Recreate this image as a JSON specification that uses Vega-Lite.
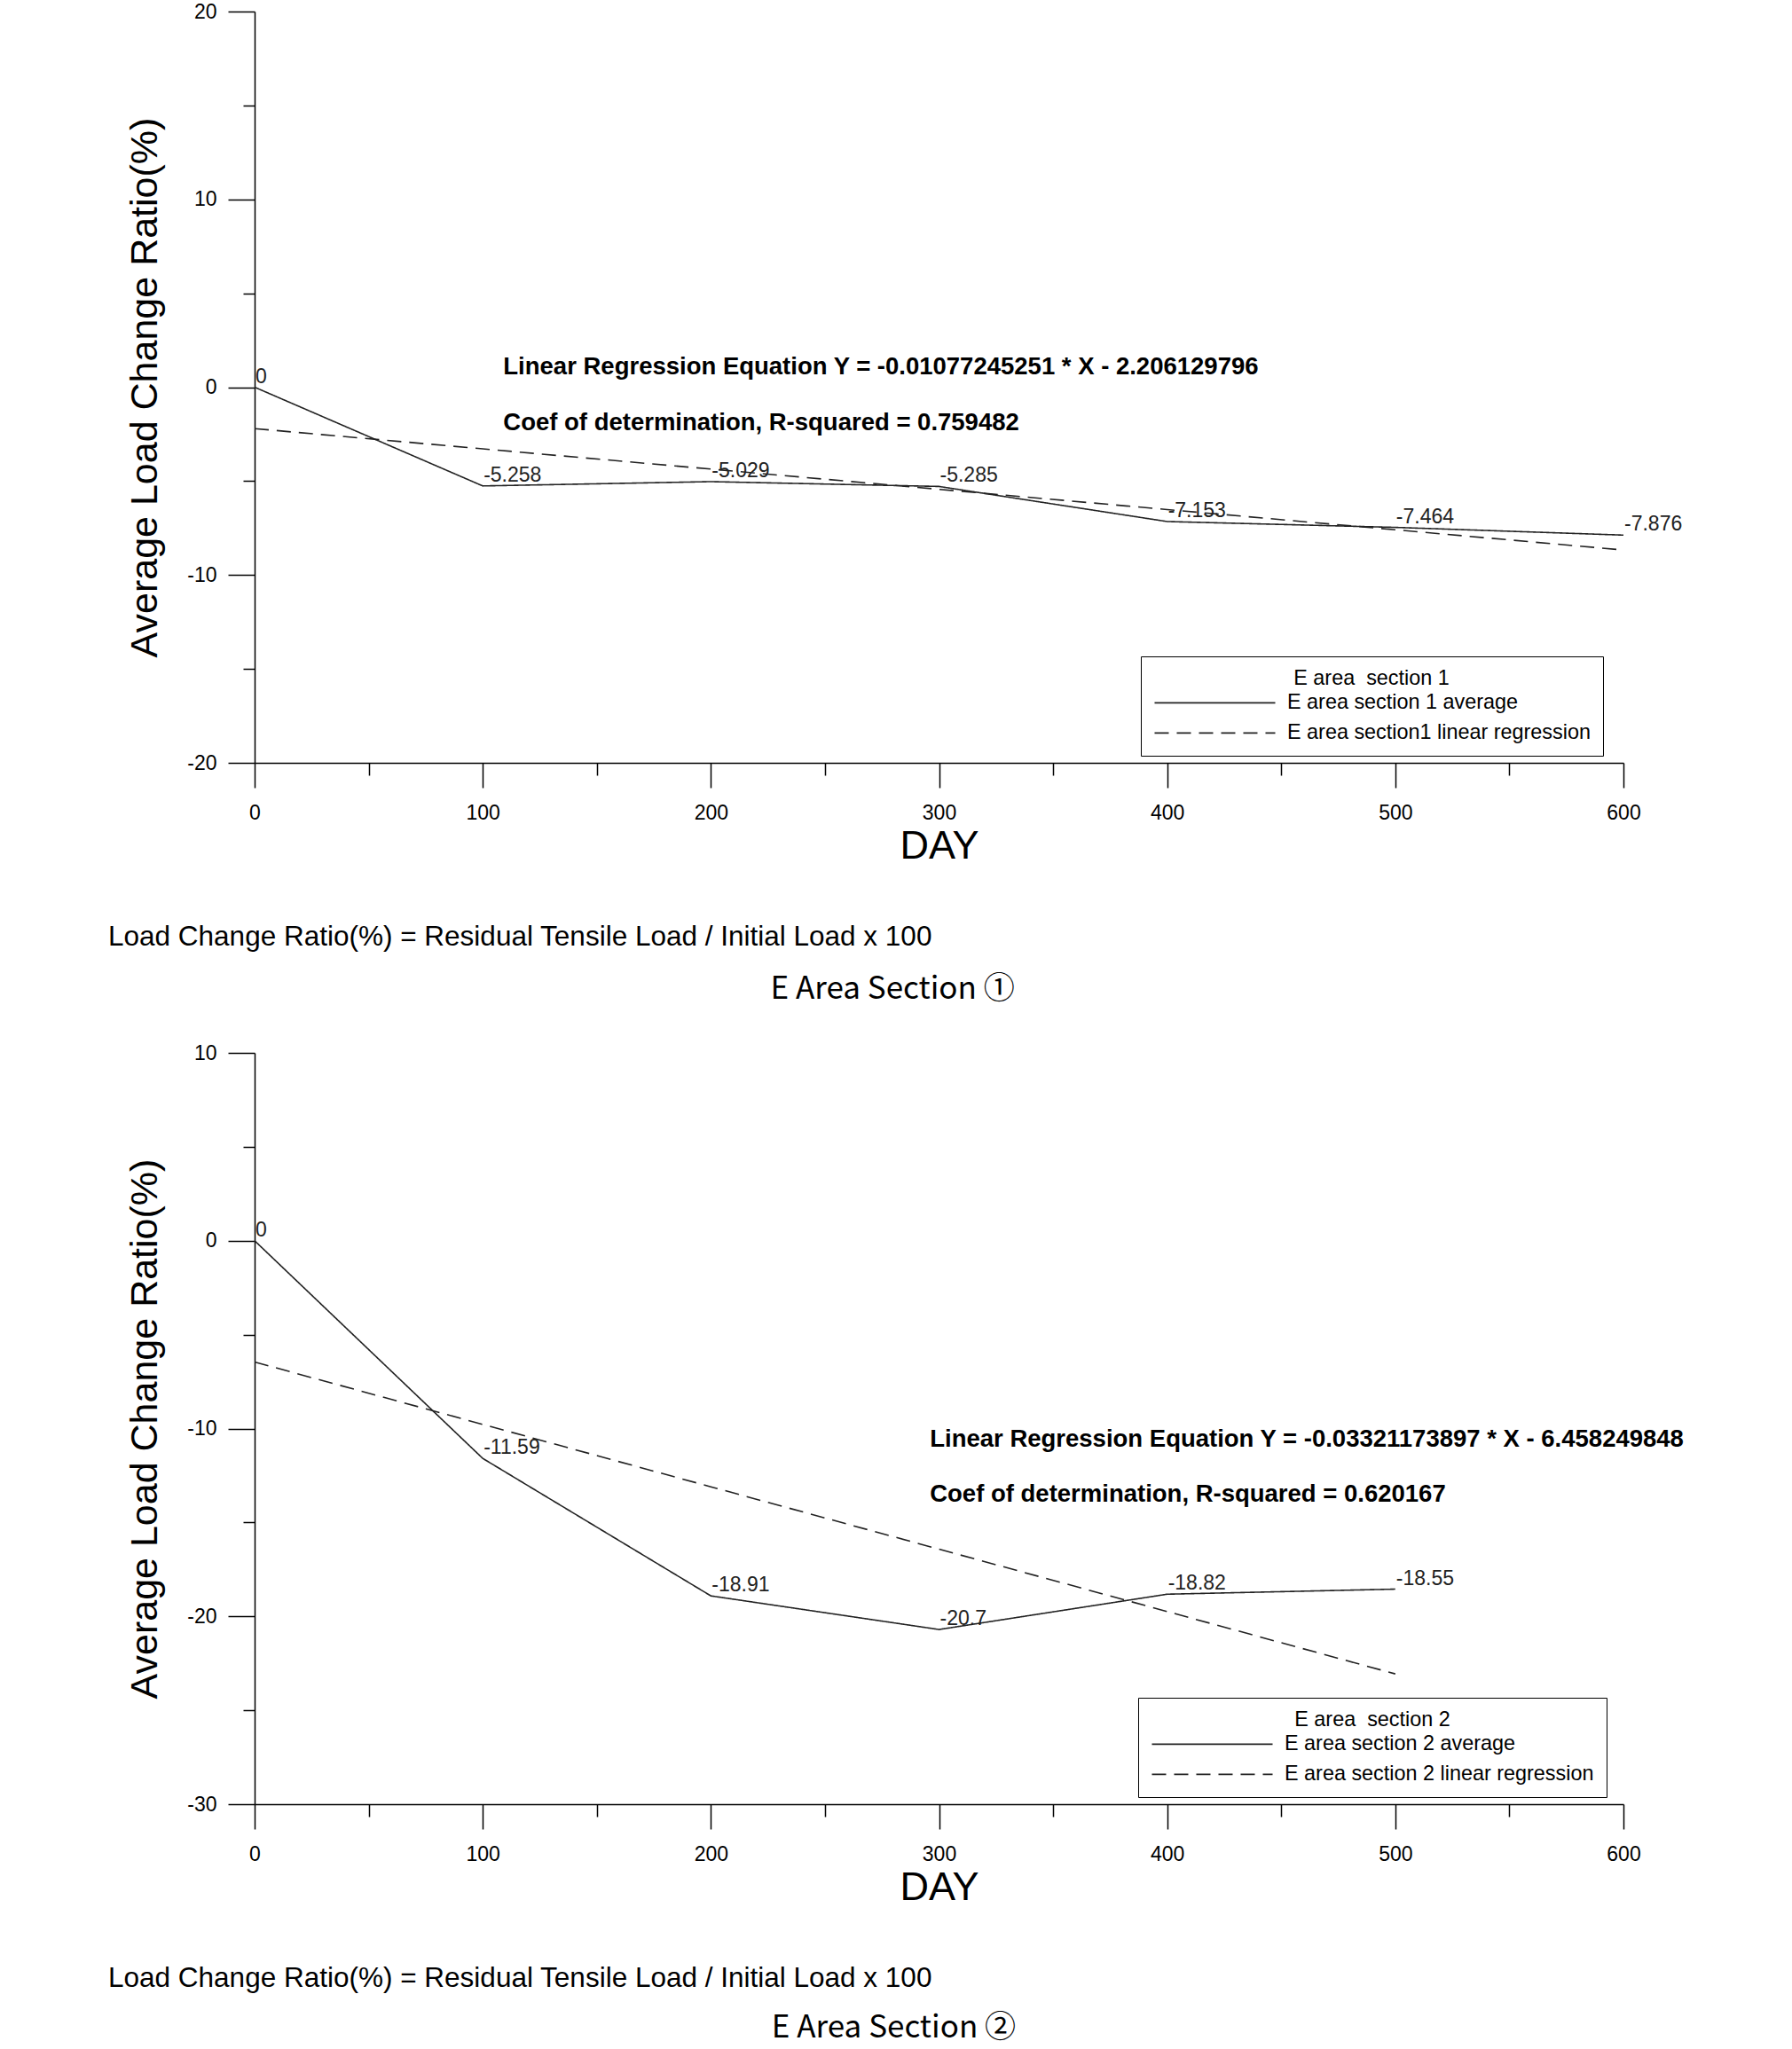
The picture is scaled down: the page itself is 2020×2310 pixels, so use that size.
{
  "$schema": "https://vega.github.io/schema/vega-lite/v6.json",
  "background": "white",
  "padding": {"left": 122, "top": 2, "right": 0, "bottom": 0},
  "spacing": 43,
  "config": {
    "font": "Liberation Sans",
    "view": {"stroke": null},
    "axis": {
      "grid": false,
      "domainColor": "#000",
      "domainWidth": 1.5,
      "tickColor": "#000",
      "tickWidth": 1.5,
      "labelColor": "#000",
      "labelFont": "Liberation Sans",
      "labelFontSize": 23,
      "titleFont": "Liberation Sans",
      "titleColor": "#000",
      "titleFontWeight": "normal",
      "labelFlush": false,
      "labelOverlap": false
    },
    "legend": {
      "orient": "none",
      "strokeColor": "#000",
      "fillColor": "white",
      "padding": 14,
      "titleFont": "Liberation Sans",
      "titleFontSize": 23.4,
      "titleFontWeight": "normal",
      "titleColor": "#000",
      "titleAnchor": "middle",
      "titleAlign": "center",
      "titlePadding": 2.5,
      "labelFont": "Liberation Sans",
      "labelFontSize": 23.4,
      "labelColor": "#000",
      "labelLimit": 1000,
      "labelOffset": 69,
      "symbolType": "M-6,0H6",
      "symbolOffset": 57,
      "symbolSize": 514,
      "symbolStrokeColor": "#222",
      "symbolStrokeWidth": 1.6,
      "rowPadding": 10
    },
    "title": {"color": "#000", "fontWeight": "normal"}
  },
  "resolve": {"scale": {"strokeDash": "independent", "x": "independent", "y": "independent"}, "legend": {"strokeDash": "independent"}},
  "vconcat": [
    {
      "title": {"text": "E Area Section ①", "orient": "bottom", "anchor": "middle", "font": "Noto Sans CJK KR", "fontSize": 35, "offset": 25, "dx": -3},
      "vconcat": [
        {
          "width": 1543,
          "height": 847,
          "title": {"text": "Load Change Ratio(%) = Residual Tensile Load / Initial Load x 100", "orient": "bottom", "anchor": "start", "frame": "group", "font": "Liberation Sans", "fontSize": 31.5, "dx": -165, "offset": 65},
          "layer": [
            {
              "data": {"values": [
                {"day": 0, "value": 0, "series": "E area section 1 average"},
                {"day": 100, "value": -5.258, "series": "E area section 1 average"},
                {"day": 200, "value": -5.029, "series": "E area section 1 average"},
                {"day": 300, "value": -5.285, "series": "E area section 1 average"},
                {"day": 400, "value": -7.153, "series": "E area section 1 average"},
                {"day": 500, "value": -7.464, "series": "E area section 1 average"},
                {"day": 600, "value": -7.876, "series": "E area section 1 average"},
                {"day": 0, "value": -2.206, "series": "E area section1 linear regression"},
                {"day": 100, "value": -3.283, "series": "E area section1 linear regression"},
                {"day": 200, "value": -4.361, "series": "E area section1 linear regression"},
                {"day": 300, "value": -5.438, "series": "E area section1 linear regression"},
                {"day": 400, "value": -6.515, "series": "E area section1 linear regression"},
                {"day": 500, "value": -7.592, "series": "E area section1 linear regression"},
                {"day": 600, "value": -8.670, "series": "E area section1 linear regression"}
              ]},
              "mark": {"type": "line", "color": "#222", "strokeWidth": 1.6},
              "encoding": {
                "x": {"field": "day", "type": "quantitative", "scale": {"domain": [0, 600], "nice": false, "zero": false},
                  "axis": {"title": "DAY", "titleFontSize": 45, "values": [0, 50, 100, 150, 200, 250, 300, 350, 400, 450, 500, 550, 600],
                    "labelExpr": "datum.value % 100 === 0 ? '' + datum.value : ''",
                    "tickSize": {"condition": {"test": "datum.value % 100 === 0", "value": 28}, "value": 14},
                    "labelPadding": 17, "titlePadding": 3}},
                "y": {"field": "value", "type": "quantitative", "scale": {"domain": [-20, 20], "nice": false, "zero": false},
                  "axis": {"title": "Average Load Change Ratio(%)", "titleFontSize": 43, "values": [-20, -15, -10, -5, 0, 5, 10, 15, 20],
                    "labelExpr": "datum.value % 10 === 0 ? '' + datum.value : ''",
                    "tickSize": {"condition": {"test": "datum.value % 10 === 0", "value": 30}, "value": 13},
                    "labelPadding": 13, "titlePadding": 25}},
                "strokeDash": {"field": "series", "type": "nominal",
                  "scale": {"domain": ["E area section 1 average", "E area section1 linear regression"], "range": [[1, 0], [16, 9]]},
                  "legend": {"title": "E area\u00a0 section 1", "legendX": 999, "legendY": 727}}
              }
            },
            {
              "data": {"values": [
                {"day": 0, "value": 0, "label": "0"},
                {"day": 100, "value": -5.258, "label": "-5.258"},
                {"day": 200, "value": -5.029, "label": "-5.029"},
                {"day": 300, "value": -5.285, "label": "-5.285"},
                {"day": 400, "value": -7.153, "label": "-7.153"},
                {"day": 500, "value": -7.464, "label": "-7.464"},
                {"day": 600, "value": -7.876, "label": "-7.876"}
              ]},
              "mark": {"type": "text", "align": "left", "baseline": "alphabetic", "dx": 1, "dy": -5, "fontSize": 23, "color": "#222"},
              "encoding": {
                "x": {"field": "day", "type": "quantitative"},
                "y": {"field": "value", "type": "quantitative"},
                "text": {"field": "label"}
              }
            },
            {
              "data": {"values": [
                {"day": 109, "value": 1.08, "text": "Linear Regression Equation Y = -0.01077245251 * X - 2.206129796"},
                {"day": 109, "value": -1.91, "text": "Coef of determination, R-squared = 0.759482"}
              ]},
              "mark": {"type": "text", "align": "left", "baseline": "middle", "fontSize": 27.5, "fontWeight": "bold", "color": "#000"},
              "encoding": {
                "x": {"field": "day", "type": "quantitative"},
                "y": {"field": "value", "type": "quantitative"},
                "text": {"field": "text"}
              }
            }
          ]
        }
      ]
    },
    {
      "title": {"text": "E Area Section ②", "orient": "bottom", "anchor": "middle", "font": "Noto Sans CJK KR", "fontSize": 35, "offset": 22, "dx": -3},
      "vconcat": [
        {
          "width": 1543,
          "height": 847,
          "title": {"text": "Load Change Ratio(%) = Residual Tensile Load / Initial Load x 100", "orient": "bottom", "anchor": "start", "frame": "group", "font": "Liberation Sans", "fontSize": 31.5, "dx": -165, "offset": 65},
          "layer": [
            {
              "data": {"values": [
                {"day": 0, "value": 0, "series": "E area section 2 average"},
                {"day": 100, "value": -11.59, "series": "E area section 2 average"},
                {"day": 200, "value": -18.91, "series": "E area section 2 average"},
                {"day": 300, "value": -20.7, "series": "E area section 2 average"},
                {"day": 400, "value": -18.82, "series": "E area section 2 average"},
                {"day": 500, "value": -18.55, "series": "E area section 2 average"},
                {"day": 0, "value": -6.458, "series": "E area section 2 linear regression"},
                {"day": 100, "value": -9.779, "series": "E area section 2 linear regression"},
                {"day": 200, "value": -13.101, "series": "E area section 2 linear regression"},
                {"day": 300, "value": -16.422, "series": "E area section 2 linear regression"},
                {"day": 400, "value": -19.743, "series": "E area section 2 linear regression"},
                {"day": 500, "value": -23.064, "series": "E area section 2 linear regression"}
              ]},
              "mark": {"type": "line", "color": "#222", "strokeWidth": 1.6},
              "encoding": {
                "x": {"field": "day", "type": "quantitative", "scale": {"domain": [0, 600], "nice": false, "zero": false},
                  "axis": {"title": "DAY", "titleFontSize": 45, "values": [0, 50, 100, 150, 200, 250, 300, 350, 400, 450, 500, 550, 600],
                    "labelExpr": "datum.value % 100 === 0 ? '' + datum.value : ''",
                    "tickSize": {"condition": {"test": "datum.value % 100 === 0", "value": 28}, "value": 14},
                    "labelPadding": 17, "titlePadding": 3}},
                "y": {"field": "value", "type": "quantitative", "scale": {"domain": [-30, 10], "nice": false, "zero": false},
                  "axis": {"title": "Average Load Change Ratio(%)", "titleFontSize": 43, "values": [-30, -25, -20, -15, -10, -5, 0, 5, 10],
                    "labelExpr": "datum.value % 10 === 0 ? '' + datum.value : ''",
                    "tickSize": {"condition": {"test": "datum.value % 10 === 0", "value": 30}, "value": 13},
                    "labelPadding": 13, "titlePadding": 25}},
                "strokeDash": {"field": "series", "type": "nominal",
                  "scale": {"domain": ["E area section 2 average", "E area section 2 linear regression"], "range": [[1, 0], [16, 9]]},
                  "legend": {"title": "E area\u00a0 section 2", "legendX": 996, "legendY": 727}}
              }
            },
            {
              "data": {"values": [
                {"day": 0, "value": 0, "label": "0"},
                {"day": 100, "value": -11.59, "label": "-11.59"},
                {"day": 200, "value": -18.91, "label": "-18.91"},
                {"day": 300, "value": -20.7, "label": "-20.7"},
                {"day": 400, "value": -18.82, "label": "-18.82"},
                {"day": 500, "value": -18.55, "label": "-18.55"}
              ]},
              "mark": {"type": "text", "align": "left", "baseline": "alphabetic", "dx": 1, "dy": -5, "fontSize": 23, "color": "#222"},
              "encoding": {
                "x": {"field": "day", "type": "quantitative"},
                "y": {"field": "value", "type": "quantitative"},
                "text": {"field": "label"}
              }
            },
            {
              "data": {"values": [
                {"day": 296, "value": -10.59, "text": "Linear Regression Equation Y = -0.03321173897 * X - 6.458249848"},
                {"day": 296, "value": -13.51, "text": "Coef of determination, R-squared = 0.620167"}
              ]},
              "mark": {"type": "text", "align": "left", "baseline": "middle", "fontSize": 27.5, "fontWeight": "bold", "color": "#000"},
              "encoding": {
                "x": {"field": "day", "type": "quantitative"},
                "y": {"field": "value", "type": "quantitative"},
                "text": {"field": "text"}
              }
            }
          ]
        }
      ]
    }
  ]
}
